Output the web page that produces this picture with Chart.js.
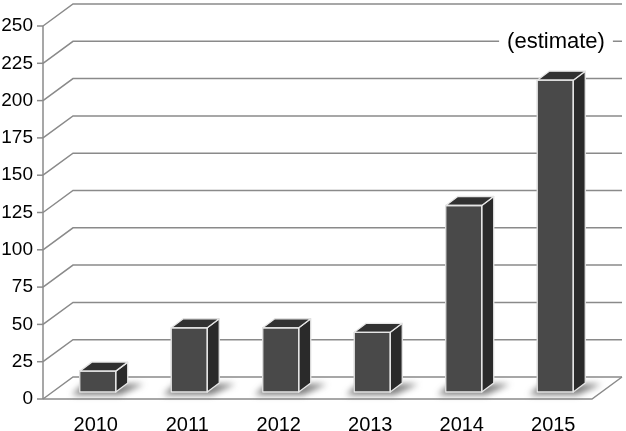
<!DOCTYPE html>
<html>
<head>
<meta charset="utf-8">
<script src="https://cdn.jsdelivr.net/npm/chart.js@4/dist/chart.umd.min.js"></script>
<style>
  html, body { margin: 0; padding: 0; background: #fff; }
  #wrap { width: 626px; height: 431px; }
</style>
</head>
<body>
<div id="wrap"><canvas id="c" width="626" height="431"></canvas></div>
<script>
const categories = ['2010', '2011', '2012', '2013', '2014', '2015'];
const values = [14, 43, 43, 40, 125, 209];
const yTickValues = [0, 25, 50, 75, 100, 125, 150, 175, 200, 225, 250];
const annotationText = '(estimate)';
const annotationValue = 225;

const WALL_DX = 30, WALL_DY = -22;     // back wall offset
const BAR_DX = 9, BAR_DY = -7;         // bar front plane offset
const DEPTH_DX = 12, DEPTH_DY = -9;    // bar depth

Chart.defaults.font.family = '"Liberation Sans", Arial, Helvetica, sans-serif';

const grid3d = {
  id: 'grid3d',
  beforeDatasetsDraw(chart) {
    const ctx = chart.ctx;
    const { left, right, top, bottom } = chart.chartArea;
    const ys = chart.scales.y;
    ctx.save();
    ctx.strokeStyle = '#8a8a8a';
    ctx.lineWidth = 1.5;
    yTickValues.forEach(v => {
      const py = ys.getPixelForValue(v);
      ctx.beginPath();
      ctx.moveTo(left, py);
      ctx.lineTo(left + WALL_DX, py + WALL_DY);
      ctx.lineTo(right + WALL_DX, py + WALL_DY);
      ctx.stroke();
      ctx.beginPath();
      ctx.moveTo(left - 6, py);
      ctx.lineTo(left, py);
      ctx.stroke();
    });
    // floor front and right edges
    ctx.beginPath();
    ctx.moveTo(left, bottom);
    ctx.lineTo(right, bottom);
    ctx.lineTo(right + WALL_DX, bottom + WALL_DY);
    ctx.stroke();
    // axis line
    ctx.beginPath();
    ctx.moveTo(left, top);
    ctx.lineTo(left, bottom);
    ctx.stroke();

    // soft floor shadows
    const meta = chart.getDatasetMeta(0);
    ctx.filter = 'blur(3px)';
    ctx.fillStyle = 'rgba(70,70,70,0.7)';
    meta.data.forEach(bar => {
      const p = bar.getProps(['x', 'base', 'width'], true);
      const L = p.x - p.width / 2 + BAR_DX, R = p.x + p.width / 2 + BAR_DX;
      const B = p.base + BAR_DY;
      ctx.beginPath();
      ctx.moveTo(L - 8, B + 3);
      ctx.lineTo(R + 4, B + 3);
      ctx.lineTo(R + DEPTH_DX + 16, B + DEPTH_DY + 1);
      ctx.lineTo(L + 4, B + DEPTH_DY + 1);
      ctx.closePath();
      ctx.fill();
    });
    ctx.filter = 'none';
    ctx.restore();

    ctx.save();
    ctx.translate(BAR_DX, BAR_DY);
  },
  afterDatasetsDraw(chart) {
    const ctx = chart.ctx;
    const meta = chart.getDatasetMeta(0);
    ctx.lineWidth = 1.3;
    ctx.strokeStyle = '#e6e6e6';
    ctx.lineJoin = 'round';
    meta.data.forEach(bar => {
      const p = bar.getProps(['x', 'y', 'base', 'width'], true);
      const L = p.x - p.width / 2, R = p.x + p.width / 2;
      const T = p.y, B = p.base;
      // side face
      ctx.beginPath();
      ctx.moveTo(R, T);
      ctx.lineTo(R + DEPTH_DX, T + DEPTH_DY);
      ctx.lineTo(R + DEPTH_DX, B + DEPTH_DY);
      ctx.lineTo(R, B);
      ctx.closePath();
      ctx.fillStyle = '#2a2a2a';
      ctx.fill();
      ctx.stroke();
      // top face
      ctx.beginPath();
      ctx.moveTo(L, T);
      ctx.lineTo(L + DEPTH_DX, T + DEPTH_DY);
      ctx.lineTo(R + DEPTH_DX, T + DEPTH_DY);
      ctx.lineTo(R, T);
      ctx.closePath();
      ctx.fillStyle = '#313131';
      ctx.fill();
      ctx.stroke();
      // front outline
      ctx.strokeRect(L, T, R - L, B - T);
    });
    ctx.restore();
  },
  afterDraw(chart) {
    const ctx = chart.ctx;
    const { right } = chart.chartArea;
    const ys = chart.scales.y;
    const py = ys.getPixelForValue(annotationValue) + WALL_DY;
    const cx = right + WALL_DX - 66;
    ctx.save();
    ctx.font = '22px "Liberation Sans", Arial, sans-serif';
    const w = ctx.measureText(annotationText).width;
    ctx.fillStyle = '#fff';
    ctx.fillRect(cx - w / 2 - 8, py - 4, w + 16, 8);
    ctx.fillStyle = '#000';
    ctx.textAlign = 'center';
    ctx.textBaseline = 'middle';
    ctx.fillText(annotationText, cx, py + 1);
    ctx.restore();
  }
};

new Chart(document.getElementById('c'), {
  type: 'bar',
  data: {
    labels: categories,
    datasets: [{
      data: values,
      backgroundColor: '#494949',
      borderWidth: 0,
      barThickness: 36,
      clip: false
    }]
  },
  options: {
    responsive: false,
    devicePixelRatio: 1,
    animation: false,
    layout: { padding: { top: 26, right: 34, left: 0, bottom: 0 } },
    plugins: { legend: { display: false }, tooltip: { enabled: false } },
    scales: {
      x: {
        grid: { display: false },
        border: { display: false },
        ticks: { color: '#000', font: { size: 20 }, labelOffset: 7, padding: 6 },
        afterFit(s) { s.height = 32; }
      },
      y: {
        min: 0, max: 250,
        afterBuildTicks(s) { s.ticks = yTickValues.map(v => ({ value: v })); },
        grid: { display: false, drawTicks: false },
        border: { display: false },
        ticks: { color: '#000', font: { size: 19 }, padding: 10 },
        afterFit(s) { s.width = 43; }
      }
    }
  },
  plugins: [grid3d]
});
</script>
</body>
</html>
